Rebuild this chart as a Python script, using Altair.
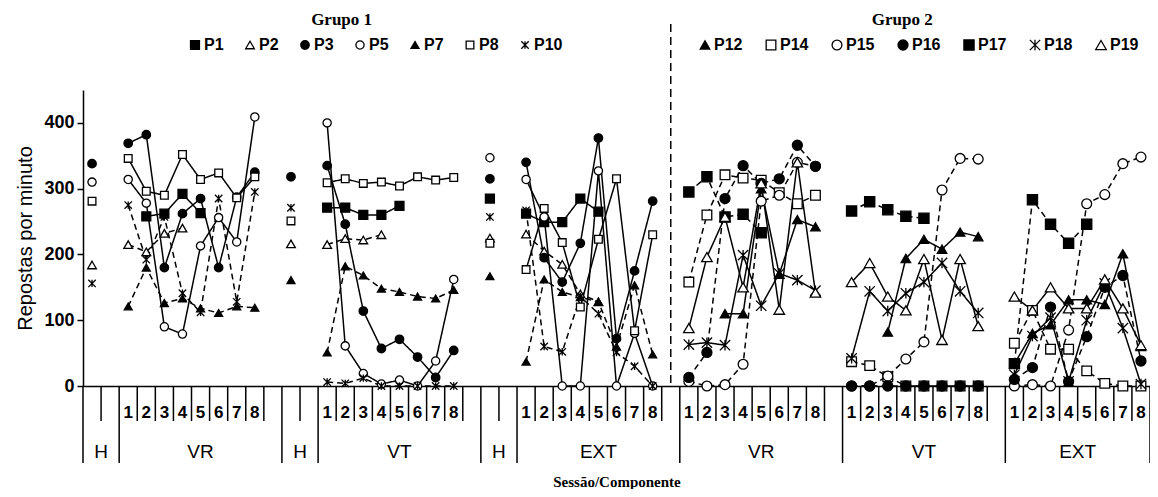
import altair as alt
import pandas as pd

# ---------------- category-axis structure ----------------
BLOCK_NAMES = ["H", "VR", "H", "VT", "H", "EXT", "VR", "VT", "EXT"]
BLOCK_SLOTS = [2, 9, 2, 9, 2, 9, 9, 9, 8]
SESSIONS = ["1", "2", "3", "4", "5", "6", "7", "8"]
GROUP_TITLES = ["Grupo 1", "Grupo 2"]
GROUP_TITLE_X = [14.3, 45.3]

G1 = ["P1", "P2", "P3", "P5", "P7", "P8", "P10"]
G2 = ["P12", "P14", "P15", "P16", "P17", "P18", "P19"]

# ---------------- Grupo 1 ----------------
# H values before VR, VT and EXT
P1_H = [None, None, 285]
P2_H = [184, 216, 225]
P3_H = [338, 318, 315]
P5_H = [310, None, 347]
P7_H = [None, 161, 167]
P8_H = [281, 251, 217]
P10_H = [156, 271, 257]

P1_VR = [None, 258, 262, 292, 263]
P2_VR = [215, 204, 232, 240]
P3_VR = [369, 382, 180, 262, 285, 180, 287, 325]
P5_VR = [314, 278, 90, 79, 213, 256, 219, 409]
P7_VR = [121, 180, 126, 133, 118, 111, 121, 119]
P8_VR = [346, 296, 290, 352, 314, 324, 286, 318]
P10_VR = [275, 192, 257, 141, 112, 285, 128, 295]

P1_VT = [271, 271, 260, 260, 274]
P2_VT = [215, 224, 222, 230]
P3_VT = [335, 246, 114, 57, 71, 44, 13, 54]
P5_VT = [400, 61, 19, 3, 9, 0, 38, 162]
P7_VT = [51, 182, 168, 148, 143, 136, 133, 146]
P8_VT = [309, 315, 308, 310, 304, 318, 313, 317]
P10_VT = [6, 4, 12, 0, 0, 0, 0, 0]

P1_EXT = [262, 249, 249, 285, 265]
P2_EXT = [231, 205, 185, 140, 128]
P3_EXT = [340, 195, 158, 217, 377, 72, 175, 281]
P5_EXT = [314, 257, 0, 0, 327, 0, 80, 0]
P7_EXT = [37, 162, 143, 135, 128, 60, 153, 48]
P8_EXT = [177, 270, 218, 120, 223, 315, 84, 230]
P10_EXT = [267, 60, 52, 136, 110, 51, 30, 0]

# ---------------- Grupo 2 ----------------
P12_VR = [None, None, 110, 110, 300, 170, 253, 242]
P14_VR = [158, 260, 321, 316, 313, 294, 277, 290]
P15_VR = [7, 0, 2, 33, 281, 290, 340, 334]
P16_VR = [13, 51, 285, 335, 308, 315, 366, 334]
P17_VR = [295, 318, 257, 261, 233]
P18_VR = [63, 66, 62, 199, 122, 171, 161, 145]
P19_VR = [88, 196, 257, 150, 308, 116, 340, 142]

P12_VT = [None, None, 82, 194, 223, 208, 234, 227]
P14_VT = [37, 31, 14, 0, 0, 0, 0, 0]
P15_VT = [0, 0, 15, 41, 67, 298, 346, 345]
P16_VT = [0, 0, 0, 0, 0, 0, 0, 0]
P17_VT = [266, 280, 268, 258, 255]
P18_VT = [42, 144, 114, 141, 158, 187, 144, 111]
P19_VT = [158, 187, 136, 115, 193, 70, 193, 91]

P12_EXT = [34, 80, 93, 131, 131, 124, 201, 60]
P14_EXT = [65, 115, 56, 56, 23, 4, 0, 0]
P15_EXT = [0, 2, 0, 85, 277, 291, 338, 348]
P16_EXT = [10, 28, 120, 7, 75, 150, 168, 38]
P17_EXT = [34, 283, 246, 217, 246]
P18_EXT = [17, 76, 104, 7, 100, 156, 88, 3]
P19_EXT = [136, 115, 150, 118, 118, 162, 118, 62]

LINE_STYLE = {"P1": "solid", "P2": "dashed", "P3": "solid", "P5": "solid", "P7": "dashed",
              "P8": "solid", "P10": "dashed", "P12": "solid", "P14": "dashed", "P15": "dashed",
              "P16": "dashed", "P17": "dashed", "P18": "solid", "P19": "solid"}

STAR = "M-1,-1L1,1M-1,1L1,-1M0,-1L0,1"
G1_SHAPES = ["square", "triangle-up", "circle", "circle", "triangle-up", "square", STAR]
G1_FILLS = ["black", "white", "black", "white", "black", "white", "white"]
G1_SIZES = [80, 55, 100, 80, 90, 70, 90]
G2_SHAPES = ["triangle-up", "square", "circle", "circle", "square", STAR, "triangle-up"]
G2_FILLS = ["black", "white", "white", "black", "black", "white", "white"]
G2_SIZES = [90, 110, 70, 40, 90, 90, 75]

# ---------------- build tables ----------------
starts = [sum(BLOCK_SLOTS[:i]) for i in range(len(BLOCK_SLOTS))]
TOTAL = sum(BLOCK_SLOTS)
g = globals()
rows = []


def add(p, block, vals):
    for i, v in enumerate(vals):
        if v is None:
            continue
        rows.append({"P": p, "x": starts[block] + i + 0.5, "v": v,
                     "seg": f"{p}-{block}", "style": LINE_STYLE[p]})


for p in G1:
    for k, b in enumerate([0, 2, 4]):
        add(p, b, [g[p + "_H"][k]])
    add(p, 1, g[p + "_VR"])
    add(p, 3, g[p + "_VT"])
    add(p, 5, g[p + "_EXT"])
for p in G2:
    add(p, 6, g[p + "_VR"])
    add(p, 7, g[p + "_VT"])
    add(p, 8, g[p + "_EXT"])
df = pd.DataFrame(rows)

sep_rows, lab_rows, grp_rows = [], [], []
for b, (name, n) in enumerate(zip(BLOCK_NAMES, BLOCK_SLOTS)):
    s = starts[b]
    sep_rows.append({"x": s, "kind": "tall"})
    for j in range(1, n):
        sep_rows.append({"x": s + j, "kind": "short"})
    if name != "H":
        for j, t in enumerate(SESSIONS):
            lab_rows.append({"x": s + j + 0.5, "t": t})
    grp_rows.append({"x": s + n / 2, "t": name})
sep_rows.append({"x": TOTAL, "kind": "tall"})
seps = pd.DataFrame(sep_rows)
labs = pd.DataFrame(lab_rows)
grps = pd.DataFrame(grp_rows)
divider = pd.DataFrame({"x": [starts[5] + 8.5]})
titles = pd.DataFrame({"x": GROUP_TITLE_X, "t": GROUP_TITLES})

# ---------------- chart ----------------
W, H = 1067, 296
SANS = "Liberation Sans"
xscale = alt.Scale(domain=[0, TOTAL], nice=False, zero=False)
yscale = alt.Scale(domain=[0, 450], nice=False)
xaxis = alt.Axis(title="Sessão/Componente", labels=False, ticks=False, grid=False,
                 domainColor="black", domainWidth=1.5, titleFont="Liberation Serif",
                 titleFontSize=15, titleFontWeight="bold", titleColor="black",
                 titleY=95, titleBaseline="middle")
yaxis = alt.Axis(values=[0, 100, 200, 300, 400], title="Repostas por minuto", grid=False,
                 domainColor="black", domainWidth=1.5, tickColor="black", tickWidth=1.5,
                 tickSize=6, labelFont=SANS, labelFontSize=18, labelFontWeight="bold",
                 labelColor="black", labelPadding=3, titleFont=SANS, titleFontSize=20,
                 titleFontWeight="normal", titleColor="black", titlePadding=8)
X = alt.X("x:Q", scale=xscale, axis=xaxis)
Y = alt.Y("v:Q", scale=yscale, axis=yaxis)

lines = alt.Chart(df).mark_line(color="black", strokeWidth=1.5).encode(
    x=X, y=Y, detail="seg:N",
    strokeDash=alt.StrokeDash("style:N", scale=alt.Scale(domain=["solid", "dashed"],
                                                         range=[[1, 0], [6, 4]]), legend=None),
)


def legend(lx, cp):
    return alt.Legend(title=None, orient="none", legendX=lx, legendY=-53, direction="horizontal",
                      columns=7, columnPadding=cp, labelFont=SANS, labelFontSize=16,
                      labelFontWeight="bold", labelColor="black", labelOffset=1,
                      symbolStrokeWidth=1.3, padding=0)


def points(names, shapes, fills, sizes, lx, cp):
    lg = legend(lx, cp)
    return alt.Chart(df[df.P.isin(names)]).mark_point(
        filled=True, strokeWidth=1.3, opacity=1).encode(
        x=X, y=Y,
        shape=alt.Shape("P:N", scale=alt.Scale(domain=names, range=shapes), legend=lg),
        fill=alt.Fill("P:N", scale=alt.Scale(domain=names, range=fills), legend=lg),
        stroke=alt.Stroke("P:N", scale=alt.Scale(domain=names, range=["black"] * len(names)),
                          legend=lg),
        size=alt.Size("P:N", scale=alt.Scale(domain=names, range=sizes), legend=lg),
    )


pts1 = points(G1, G1_SHAPES, G1_FILLS, G1_SIZES, 104, 18)
pts2 = points(G2, G2_SHAPES, G2_FILLS, G2_SIZES, 614, 20)

sep_short = alt.Chart(seps[seps.kind == "short"]).mark_rule(color="black", strokeWidth=1.5).encode(
    x=X, y=alt.value(H), y2=alt.value(H + 35))
sep_tall = alt.Chart(seps[seps.kind == "tall"]).mark_rule(color="black", strokeWidth=1.5).encode(
    x=X, y=alt.value(H), y2=alt.value(H + 77))
sess = alt.Chart(labs).mark_text(font=SANS, fontSize=17, fontWeight="bold", color="black",
                                 baseline="middle").encode(x=X, y=alt.value(H + 27), text="t:N")
grp = alt.Chart(grps).mark_text(font=SANS, fontSize=19, color="black",
                                baseline="middle").encode(x=X, y=alt.value(H + 66), text="t:N")
div = alt.Chart(divider).mark_rule(color="black", strokeWidth=1.5, strokeDash=[8, 5]).encode(
    x=X, y=alt.value(-66), y2=alt.value(H))
ttl = alt.Chart(titles).mark_text(font="Liberation Serif", fontSize=17, fontWeight="bold",
                                  color="black", baseline="middle").encode(
    x=X, y=alt.value(-70), text="t:N")

chart = alt.layer(lines, sep_short, sep_tall, sess, grp, div, ttl, pts1, pts2).resolve_scale(
    shape="independent", fill="independent", size="independent", stroke="independent"
).properties(
    width=W, height=H,
    padding={"left": 75, "top": 82, "right": 0, "bottom": 103},
    autosize=alt.AutoSizeParams(type="none"),
).configure_view(stroke=None)

chart.save("out.html", embed_options={"renderer": "svg", "actions": False})
